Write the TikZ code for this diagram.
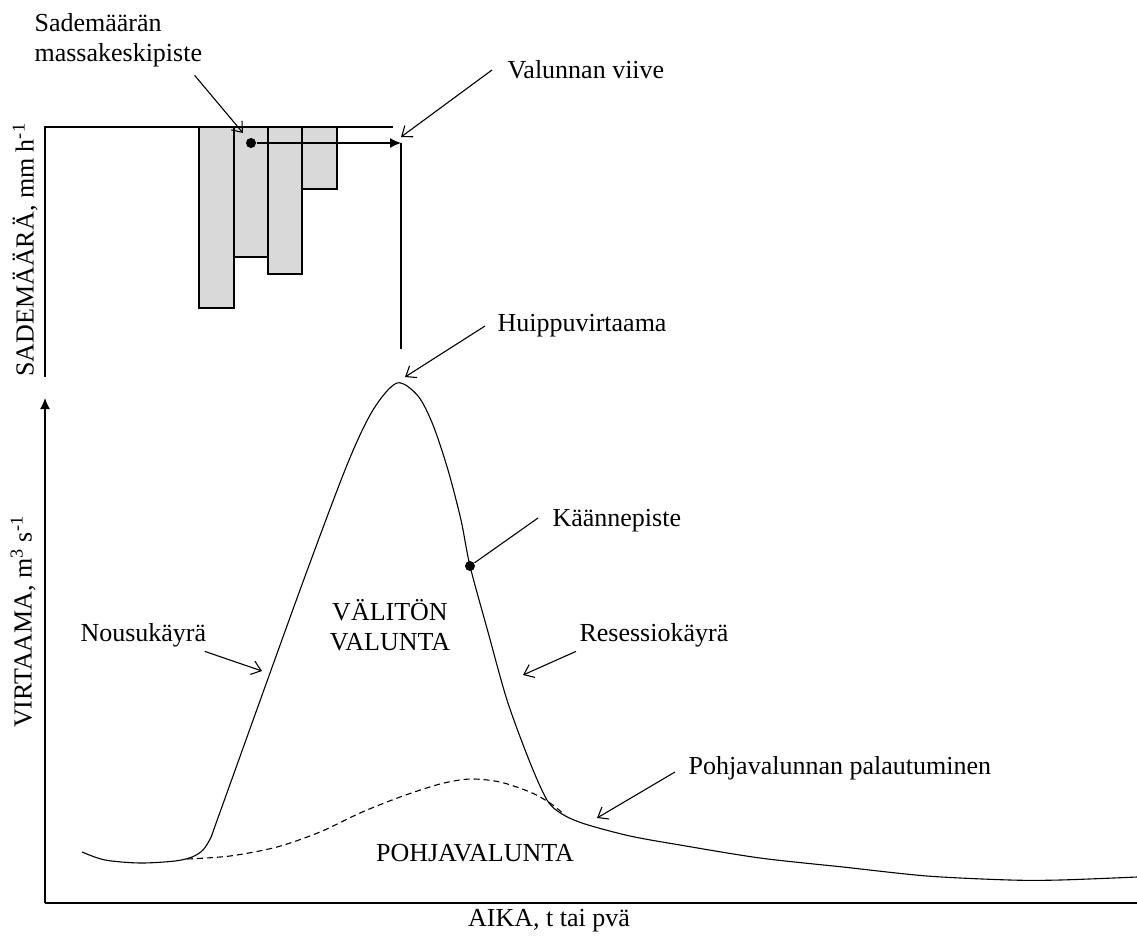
\documentclass[tikz,border=0pt]{standalone}
\usepackage{fontspec}
\setmainfont{Liberation Serif}
\usetikzlibrary{arrows.meta}
\definecolor{raingray}{RGB}{217,217,217}
\tikzset{lbl/.style = {font = \fontsize{26}{30}\selectfont, inner sep = 0pt}}
\tikzset{callout/.style = {-{Straight Barb[length = 9pt, width = 14pt]}, line width = 1.1pt}}
\tikzset{axis/.style = {-{Latex[length = 11pt, width = 10pt]}, line width = 1.4pt}}
\tikzset{bar/.style = {draw, fill = raingray, line width = 1.1pt}}
\tikzset{spot/.style = {circle, fill, inner sep = 0pt, minimum size = 10pt}}

\begin{document}
\begin{tikzpicture}[x = 1pt, y = -1pt, line width = 1.1pt]
	\useasboundingbox (0, 0) rectangle (1137, 935);

	% rain bars
	\foreach \xa/\xb/\yb in {199/234/308, 234/268/257, 268/302/274, 302/337/189}
		\draw[bar] (\xa, 127) rectangle (\xb, \yb);

	% rain axis
	\draw[line width = 1.4pt] (45, 377) -- (45, 127) -- (393, 127);
	\draw (401, 143) -- (401, 349);

	% flow axes
	\coordinate (o) at (45, 903);
	\draw[axis] (o) -- (45, 398);
	\draw[axis] (o) -- (1150, 903);

	% hydrograph
	\draw plot[smooth, tension = 0.5] coordinates {
		(82, 852) (105, 860) (140, 863) (175, 861) (192, 857) (203, 850) (211, 837)
		(219, 815) (300, 590) (347, 465) (373, 410) (397, 383) (418, 396)
		(433, 425) (448, 470) (461, 520) (470, 566) (488, 632)
		(507, 700) (529, 760) (547, 800) (562, 814) (585, 824) (630, 836)
		(680, 845) (760, 858) (843, 867) (927, 876) (1010, 880) (1060, 880) (1137, 877)};
	\draw[dash pattern = on 6pt off 4pt] plot[smooth, tension = 0.5] coordinates {
		(187, 859) (230, 856) (277, 847) (320, 832) (360, 813) (400, 797) (440, 784)
		(470, 779) (500, 782) (530, 792) (550, 803) (565, 815)};

	% points
	\node[spot] (cm) at (251, 143) {};
	\node[spot] (kp) at (470, 566) {};
	\coordinate (lag) at (401, 143);
	\draw[-{Latex[length = 11pt, width = 10pt]}] (cm) -- (lag);

	% labels
	\node[lbl, align = left, anchor = west] (massa) at (34, 40) {Sademäärän\\massakeskipiste};
	\node[lbl, anchor = west] (viive) at (507, 70) {Valunnan viive};
	\node[lbl, anchor = west] (huippu) at (497, 326) {Huippuvirtaama};
	\node[lbl, anchor = west] (kaanne) at (552, 521) {Käännepiste};
	\node[lbl, anchor = west] (nousu) at (80, 635) {Nousukäyrä};
	\node[lbl, anchor = west] (resessio) at (579, 635) {Resessiokäyrä};
	\node[lbl, anchor = west] (palaut) at (688, 768) {Pohjavalunnan palautuminen};
	\node[lbl, align = center] (valiton) at (390, 625) {VÄLITÖN\\VALUNTA};
	\node[lbl] (pohja) at (475, 853) {POHJAVALUNTA};
	\node[lbl] (aika) at (549, 921) {AIKA, t tai pvä};
	\node[lbl, rotate = 90] (sade) at (25, 250) {SADEMÄÄRÄ, mm h\textsuperscript{-1}};
	\node[lbl, rotate = 90] (virtaama) at (23, 622) {VIRTAAMA, m\textsuperscript{3} s\textsuperscript{-1}};

	% callout ends
	\coordinate (cmtip) at (243, 133);
	\coordinate (lagtip) at (401, 137);
	\coordinate (peak) at (405, 377);
	\coordinate (nousutip) at (262, 671);
	\coordinate (resessiotip) at (523, 675);
	\coordinate (palauttip) at (597, 818);

	\draw[callout] ([xshift = -8pt, yshift = -8pt]massa.south east) -- (cmtip);
	\draw[callout] ([xshift = -15pt]viive.west) -- (lagtip);
	\draw[callout] ([xshift = -12pt]huippu.west) -- (peak);
	\draw ([xshift = -14pt, yshift = 3pt]kaanne.west) -- (kp);
	\draw[callout] ([xshift = -2pt, yshift = -4pt]nousu.south east) -- (nousutip);
	\draw[callout] ([xshift = -3pt, yshift = -4pt]resessio.south west) -- (resessiotip);
	\draw[callout] ([xshift = -13pt, yshift = -4pt]palaut.west) -- (palauttip);
\end{tikzpicture}
\end{document}
